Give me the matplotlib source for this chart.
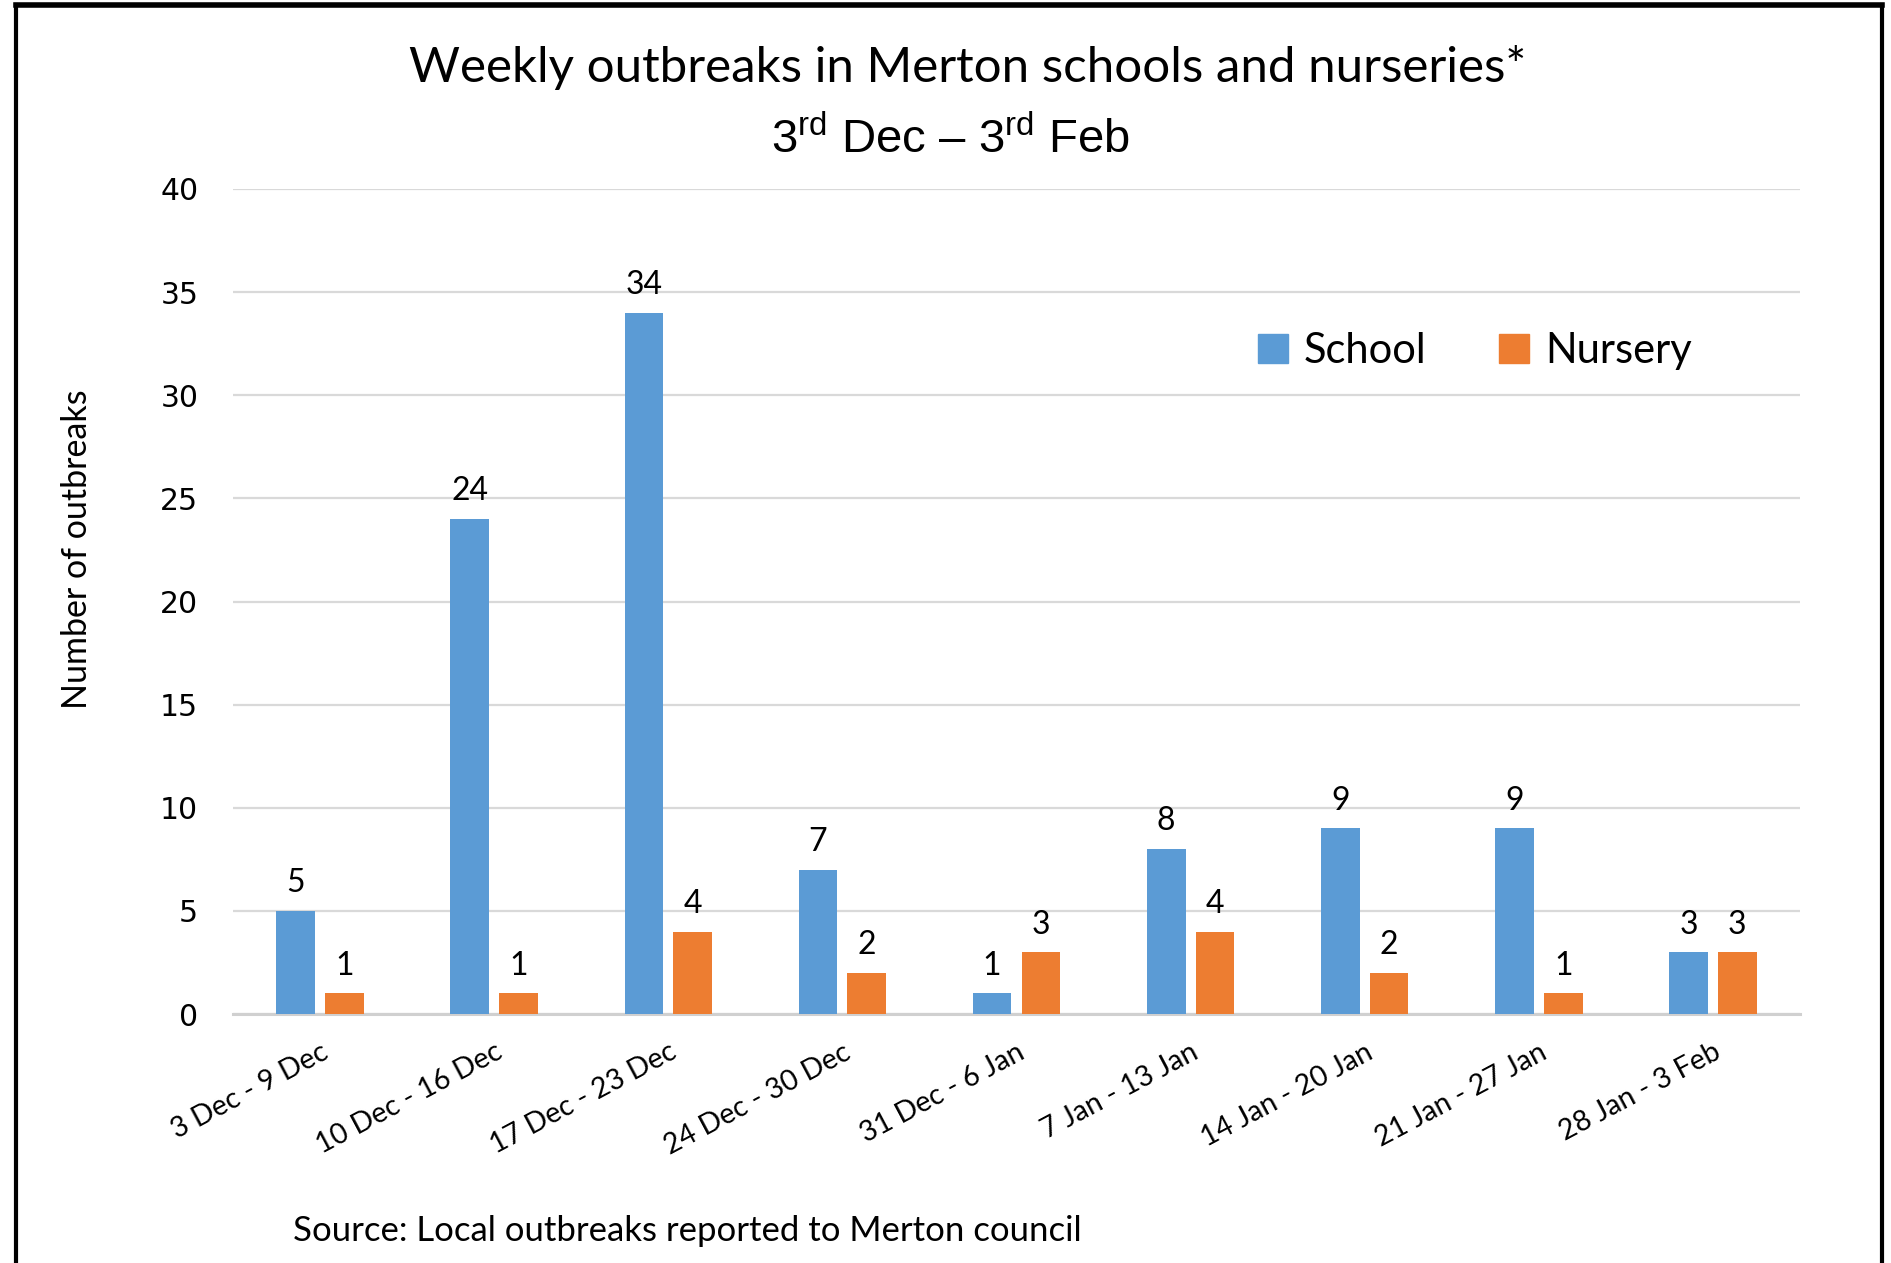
import matplotlib
matplotlib.use("Agg")
import matplotlib.pyplot as plt
from matplotlib.lines import Line2D
from matplotlib.patches import Patch
import numpy as np

categories = ["3 Dec - 9 Dec", "10 Dec - 16 Dec", "17 Dec - 23 Dec", "24 Dec - 30 Dec",
              "31 Dec - 6 Jan", "7 Jan - 13 Jan", "14 Jan - 20 Jan", "21 Jan - 27 Jan",
              "28 Jan - 3 Feb"]
school = [5, 24, 34, 7, 1, 8, 9, 9, 3]
nursery = [1, 1, 4, 2, 3, 4, 2, 1, 3]
yticks = [0, 5, 10, 15, 20, 25, 30, 35, 40]

BLUE = "#5B9BD5"
ORANGE = "#ED7D31"
FONT = "Lato"

plt.rcParams["mathtext.fontset"] = "custom"
plt.rcParams["mathtext.rm"] = "Liberation Sans"

W, H = 1891, 1263
fig = plt.figure(figsize=(W / 100, H / 100), dpi=100)

def fx(px):
    return px / W

def fy(py):
    return 1 - py / H

ax = fig.add_axes([fx(233), fy(1014), fx(1800) - fx(233), fy(189) - fy(1014)])

x = np.arange(len(categories))
bw = 0.222
off = 0.14
b1 = ax.bar(x - off, school, bw, color=BLUE, zorder=3)
b2 = ax.bar(x + off, nursery, bw, color=ORANGE, zorder=3)

for rect, v in zip(b1, school):
    ax.annotate(str(v), (rect.get_x() + rect.get_width() / 2, v), xytext=(0, 9),
                textcoords="offset points", ha="center", va="bottom",
                fontsize=23, family=FONT)
for rect, v in zip(b2, nursery):
    ax.annotate(str(v), (rect.get_x() + rect.get_width() / 2, v), xytext=(0, 9),
                textcoords="offset points", ha="center", va="bottom",
                fontsize=23, family=FONT)

ax.set_xlim(-0.5, len(categories) - 0.5)
ax.set_ylim(0, 40)
ax.set_yticks(yticks)
ax.set_yticklabels([str(t) for t in yticks], fontsize=21.5, family="DejaVu Sans")
ax.yaxis.grid(True, color="#D9D9D9", linewidth=1.6, zorder=0)
ax.set_axisbelow(True)
for s in ["top", "right", "left"]:
    ax.spines[s].set_visible(False)
ax.spines["bottom"].set_color("#D0D0D0")
ax.spines["bottom"].set_linewidth(2.2)
ax.tick_params(axis="y", length=0, pad=25)
ax.tick_params(axis="x", length=0, pad=18)
ax.set_xticks(x)
ax.set_xticklabels(categories, rotation=28, ha="right", rotation_mode="anchor",
                   fontsize=20.5, family=FONT)

fig.text(fx(77), fy(549), "Number of outbreaks", rotation=90, ha="center", va="center",
         fontsize=24.5, family=FONT)

fig.text(fx(968), fy(67), "Weekly outbreaks in Merton schools and nurseries*",
         ha="center", va="center", fontsize=35.5, family=FONT)
fig.text(fx(950), fy(140), r"3$^{\mathrm{rd}}$ Dec – 3$^{\mathrm{rd}}$ Feb",
         ha="center", va="center", fontsize=34, family="Liberation Sans")

handles = [Patch(color=BLUE), Patch(color=ORANGE)]
leg = fig.legend(handles, ["School", "Nursery"], loc="center left",
                 bbox_to_anchor=(fx(1258), fy(351)), ncol=2, frameon=False,
                 borderpad=0, borderaxespad=0,
                 prop={"family": FONT, "size": 30}, handlelength=0.72, handleheight=0.72,
                 handletextpad=0.38, columnspacing=1.75)

fig.text(fx(293), fy(1231), "Source: Local outbreaks reported to Merton council",
         ha="left", va="center", fontsize=25, family=FONT)

# frame
lw = 3
fig.add_artist(Line2D([fx(16), fx(16)], [0, fy(5)], color="black", linewidth=lw))
fig.add_artist(Line2D([fx(1882), fx(1882)], [0, fy(5)], color="black", linewidth=lw))
fig.add_artist(Line2D([fx(16), fx(1882)], [fy(5), fy(5)], color="black", linewidth=lw + 1))

fig.savefig("out.png", dpi=100)
